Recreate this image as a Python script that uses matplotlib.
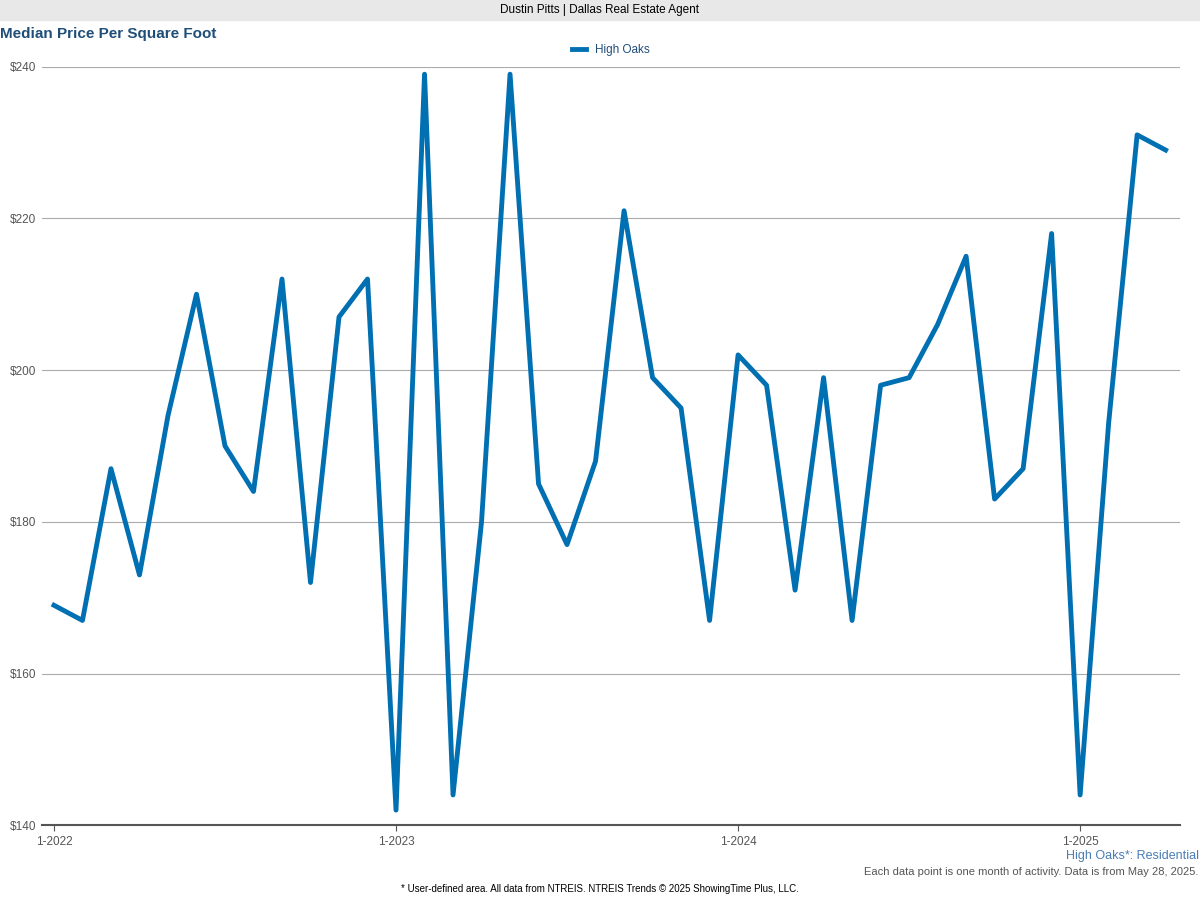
import matplotlib
matplotlib.use("Agg")
import matplotlib.pyplot as plt
import numpy as np

# Monthly median price per sq ft, Jan 2022 - Apr 2025
values = [169, 167, 187, 173, 194, 210, 190, 184, 212, 172, 207, 212,
          142, 239, 144, 180, 239, 185, 177, 188, 221, 199, 195, 167,
          202, 198, 171, 199, 167, 198, 199, 206, 215, 183, 187, 218,
          144, 193, 231, 229]
tick_pos = [0, 12, 24, 36]
tick_labels = ["1-2022", "1-2023", "1-2024", "1-2025"]
y_ticks = [140, 160, 180, 200, 220, 240]

blue = "#0070b3"
fig = plt.figure(figsize=(12, 9), dpi=100)
fig.patch.set_facecolor("white")

# header band
fig.patches.append(plt.Rectangle((0, 0.978), 1, 0.022, transform=fig.transFigure,
                                 color="#e8e8e8", zorder=0))
fig.text(0.5, 0.989, "Dustin Pitts | Dallas Real Estate Agent", ha="center", va="center",
         fontsize=8.5, family="Liberation Sans")
fig.text(0.0, 0.962, "Median Price Per Square Foot", ha="left", va="center",
         fontsize=11, fontweight="bold", color="#1f4e79", family="Liberation Sans")

ax = fig.add_axes([0.035, 0.083, 0.948, 0.843])
x = np.arange(len(values))
ax.plot(x, values, color=blue, lw=3.5, label="High Oaks", solid_joinstyle="round")
ax.set_ylim(140, 240)
ax.set_xlim(-0.42, 39.49)
ax.set_yticks(y_ticks)
ax.set_yticklabels([f"${v}" for v in y_ticks], fontsize=8.5, color="#555555", family="Liberation Sans")
ax.set_xticks(tick_pos)
ax.set_xticklabels(tick_labels, fontsize=8.5, color="#555555", family="Liberation Sans")
ax.grid(axis="y", color="#aaaaaa", lw=0.8)
ax.set_axisbelow(True)
for s in ["top", "right", "left"]:
    ax.spines[s].set_visible(False)
ax.spines["bottom"].set_color("#555555")
ax.spines["bottom"].set_linewidth(1.5)
ax.tick_params(axis="y", length=0, pad=4)
ax.tick_params(axis="x", length=4, color="#555555")
ax.legend(loc="lower center", bbox_to_anchor=(0.5, 1.0), frameon=False,
          handlelength=1.2, labelcolor="#1f4e79", prop={"family": "Liberation Sans", "size": 8.5})

fig.text(0.999, 0.049, "High Oaks*: Residential", ha="right", va="center", fontsize=9,
         color="#4a7db5", family="Liberation Sans")
fig.text(0.999, 0.031, "Each data point is one month of activity. Data is from May 28, 2025.",
         ha="right", va="center", fontsize=8, color="#555555", family="Liberation Sans")
fig.text(0.5, 0.012, "* User-defined area. All data from NTREIS. NTREIS Trends \u00a9 2025 ShowingTime Plus, LLC.",
         ha="center", va="center", fontsize=7, family="Liberation Sans")

fig.savefig("out.png", dpi=100)
